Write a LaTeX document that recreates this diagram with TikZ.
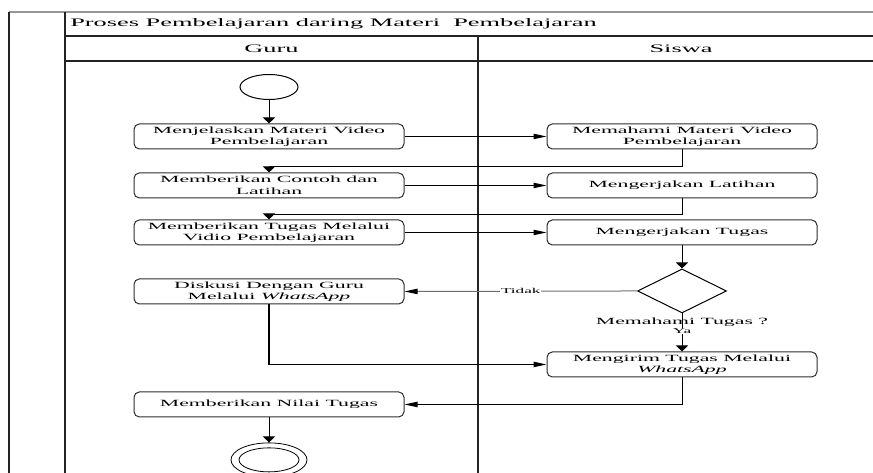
\documentclass[tikz,border=0pt]{standalone}
\usepackage{fontspec}
\setmainfont{Liberation Serif}[FakeStretch=2.3]
\usetikzlibrary{shapes.geometric, arrows.meta, positioning, calc}
\definecolor{laneborder}{RGB}{35,35,35}
\definecolor{topborder}{RGB}{150,150,150}
\definecolor{boxborder}{RGB}{45,45,45}
\definecolor{tidakline}{RGB}{110,110,110}
\tikzset{
  lane/.style={draw=laneborder, line width=0.8pt},
  actbox/.style={
    rectangle, rounded corners=4pt,
    draw=boxborder, line width=0.75pt,
    minimum width=202.5pt, minimum height=18.75pt,
    align=center, inner xsep=2pt, inner ysep=1.5pt,
    font=\fontsize{7.1}{8.6}\selectfont},
  startnode/.style={ellipse, draw=black, line width=0.75pt,
    minimum width=43.5pt, minimum height=18.75pt, inner sep=0pt},
  endnode/.style={ellipse, draw=black, line width=0.6pt,
    minimum width=57pt, minimum height=25.5pt, inner sep=0pt},
  decnode/.style={diamond, draw=black, line width=0.75pt, aspect=2,
    minimum width=66.75pt, minimum height=33pt, inner sep=0pt},
  headtext/.style={font=\fontsize{8.6}{10}\selectfont, inner sep=0pt},
  condtext/.style={font=\fontsize{7.1}{8.6}\selectfont, inner sep=0pt},
  smalltext/.style={font=\fontsize{5.6}{6.5}\selectfont,
    fill=white, inner sep=0.5pt},
  harrow/.style={-{Triangle[length=9.75pt, width=4pt, color=black]},
                 line width=0.75pt},
  varrow/.style={-{Triangle[length=4.5pt, width=9pt]}, line width=0.75pt}
}
\begin{document}
\begin{tikzpicture}[x=0.75pt, y=-0.75pt]

  \useasboundingbox (0,0) rectangle (873,473);

  %% Frame and swimlanes
  \draw[topborder, line width=1.2pt] (9,12) -- (873,12);
  \draw[lane] (9,12) -- (9,473);
  \draw[lane] (65,12) -- (65,473);
  \draw[lane] (65,36) -- (873,36);
  \draw[lane] (65,61) -- (873,61);
  \draw[lane] (478,36) -- (478,473);

  \node[headtext, anchor=west] (title) at (70,24)
    {Proses Pembelajaran daring Materi\ \ Pembelajaran};
  \node[headtext] (guru) at (271.5,49) {Guru};
  \node[headtext] (siswa) at (681,49) {Siswa};

  %% Guru lane
  \node[startnode] (start) at (269,87) {};
  \node[actbox, below=17.6pt of start] (jelas)
    {Menjelaskan Materi Video\\Pembelajaran};
  \node[actbox, below=17.25pt of jelas] (contoh)
    {Memberikan Contoh dan\\Latihan};
  \node[actbox, below=15.75pt of contoh] (tugas)
    {Memberikan Tugas Melalui\\Vidio Pembelajaran};
  \node[actbox, below=24.75pt of tugas] (diskusi)
    {Diskusi Dengan Guru\\Melalui \textit{WhatsApp}};
  \node[actbox, below=65.25pt of diskusi] (nilai)
    {Memberikan Nilai Tugas};
  \node[endnode, below=18.75pt of nilai] (end) {};
  \draw[line width=0.6pt] (end.center)
    ellipse [x radius=22.5pt, y radius=9pt];

  %% Siswa lane
  \node[actbox, right=106.5pt of jelas] (paham)
    {Memahami Materi Video\\Pembelajaran};
  \node[actbox, right=106.5pt of contoh] (latihan)
    {Mengerjakan Latihan};
  \node[actbox, right=106.5pt of tugas] (kerja)
    {Mengerjakan Tugas};
  \node[decnode, below=17.25pt of kerja,
    label={[condtext, yshift=-3.5pt]below:Memahami Tugas ?}] (cek) {};
  \node[actbox, below=28.5pt of cek] (kirim)
    {Mengirim Tugas Melalui\\\textit{WhatsApp}};

  %% Arrows
  \draw[varrow] (start.south) -- (jelas.north);
  \draw[harrow] (jelas.east) -- (paham.west);
  \draw[varrow] (paham.south) -- ++(0,17.5) -| (contoh.north);
  \draw[harrow] (contoh.east) -- (latihan.west);
  \draw[varrow] (latihan.south) -- ++(0,16) -| (tugas.north);
  \draw[harrow] (tugas.east) -- (kerja.west);
  \draw[varrow] (kerja.south) -- (cek.north);
  \draw[harrow, draw=tidakline] (cek.west) --
    node[smalltext, text=black] {Tidak} (diskusi.east);
  \draw[varrow] (cek.south) --
    node[smalltext, pos=0.47] {Ya} (kirim.north);
  \draw[harrow, line width=1pt] (diskusi.south) |- (kirim.west);
  \draw[harrow] (kirim.south) |- (nilai.east);
  \draw[varrow] (nilai.south) -- (end.north);

\end{tikzpicture}
\end{document}
